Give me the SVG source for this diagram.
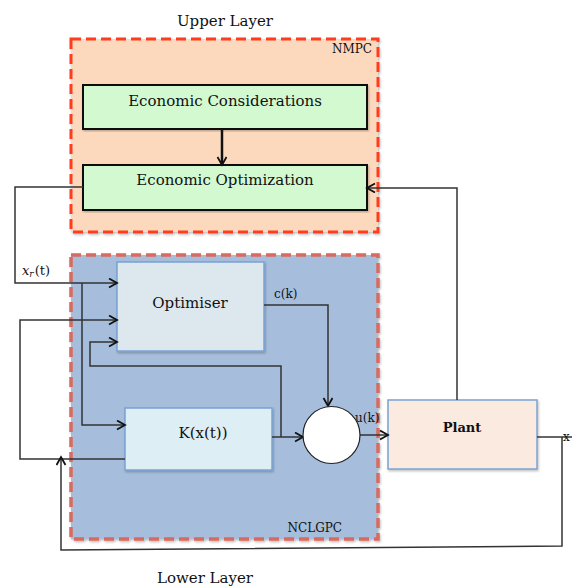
<svg xmlns="http://www.w3.org/2000/svg" width="572" height="587" viewBox="0 0 572 587">
<style>
  .t { font-family: "DejaVu Serif", "Liberation Serif", serif; fill: #111; }
  .c { fill: none; stroke: #333; stroke-width: 1.5; }
  .box { stroke: #7ba3d4; stroke-width: 1.5; }
  .gbox { fill: #d3f9d0; stroke: #111; stroke-width: 2; }
</style>
<defs>
  <marker id="ah" markerUnits="userSpaceOnUse" markerWidth="12" markerHeight="12" refX="9" refY="5" orient="auto">
    <path d="M1,0.5 L9,5 L1,9.5" fill="none" stroke="#111" stroke-width="1.8"/>
  </marker>
  <filter id="sh" x="-5%" y="-5%" width="110%" height="110%">
    <feDropShadow dx="1" dy="1.5" stdDeviation="1" flood-color="#000" flood-opacity="0.25"/>
  </filter>
</defs>
<rect width="572" height="587" fill="#fff"/>
<g id="upper-label"><text class="t" x="225" y="26" font-size="15" text-anchor="middle">Upper Layer</text></g>
<g id="nmpc">
  <rect x="71" y="39" width="307" height="193" fill="#fcd8bd" stroke="#ff3c1f" stroke-width="3" stroke-dasharray="10,5" filter="url(#sh)"/>
  <text class="t" x="372" y="53" font-size="12" text-anchor="end">NMPC</text>
</g>
<g id="nclgpc">
  <rect x="71" y="255" width="307" height="284" fill="#a6bedc" stroke="#d86a5f" stroke-width="3.5" stroke-dasharray="10,5" filter="url(#sh)"/>
  <text class="t" x="342" y="532" font-size="12" text-anchor="end">NCLGPC</text>
</g>
<g id="econ-cons">
  <rect class="gbox" x="83" y="85" width="284" height="44" filter="url(#sh)"/>
  <text class="t" x="225" y="106" font-size="15" text-anchor="middle">Economic Considerations</text>
</g>
<g id="econ-opt">
  <rect class="gbox" x="83" y="165" width="284" height="45" filter="url(#sh)"/>
  <text class="t" x="225" y="185" font-size="15" text-anchor="middle">Economic Optimization</text>
</g>
<g id="optimiser">
  <rect class="box" x="117" y="262" width="147" height="89" fill="#dce7ee" filter="url(#sh)"/>
  <text class="t" x="190" y="308" font-size="15" text-anchor="middle">Optimiser</text>
</g>
<g id="k">
  <rect class="box" x="125" y="408" width="147" height="62" fill="#ddeef4" filter="url(#sh)"/>
  <text class="t" x="203" y="438" font-size="15" text-anchor="middle">K(x(t))</text>
</g>
<g id="plant">
  <rect class="box" x="388" y="400" width="149" height="69" fill="#fbeae0" filter="url(#sh)"/>
  <text class="t" x="462" y="432" font-size="13" font-weight="bold" text-anchor="middle">Plant</text>
</g>
<g id="connectors">
  <path d="M222,129 V165" fill="none" stroke="#111" stroke-width="2.5" marker-end="url(#ah)"/>
  <path class="c" d="M457,400 V188 H367" marker-end="url(#ah)"/>
  <path class="c" d="M83,187 H15 V283 H117" marker-end="url(#ah)"/>
  <path class="c" d="M82,283 V425 H125" marker-end="url(#ah)"/>
  <path class="c" d="M125,459 H20 V320 H117" marker-end="url(#ah)"/>
  <path class="c" d="M272,437 H303" marker-end="url(#ah)"/>
  <path class="c" d="M281,437 V366 H90 V342 H117" marker-end="url(#ah)"/>
  <path class="c" d="M264,305 H328 V406" marker-end="url(#ah)"/>
  <path class="c" d="M360,435 H388" marker-end="url(#ah)"/>
  <path class="c" d="M537,437 H572"/>
  <path class="c" d="M562,437 V546 L61,550 V457" marker-end="url(#ah)"/>
</g>
<g id="labels">
  <text class="t" x="22" y="275" font-size="13"><tspan font-style="italic">x</tspan><tspan font-size="9" font-style="italic" dy="2">r</tspan><tspan dy="-2" dx="1">(t)</tspan></text>
  <text class="t" x="274" y="298" font-size="12">c(k)</text>
  <text class="t" x="355" y="422" font-size="12" fill="#1c3552">u(k)</text>
  <text class="t" x="563" y="441" font-size="12">x</text>
</g>
<g id="sum">
  <circle cx="331.5" cy="435" r="28.5" fill="#fff" stroke="#222" stroke-width="1.2"/>
</g>
<g id="lower-label"><text class="t" x="205" y="583" font-size="15" text-anchor="middle">Lower Layer</text></g>
</svg>
